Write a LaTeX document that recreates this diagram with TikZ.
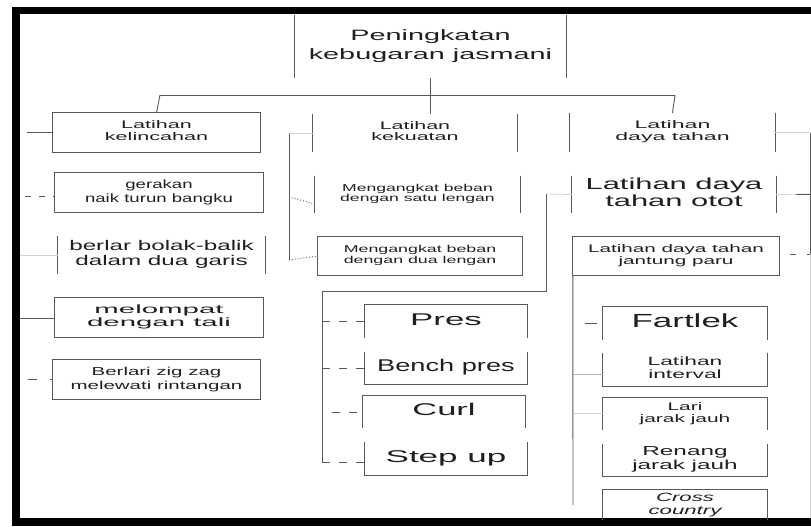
\documentclass[tikz,border=0pt]{standalone}
\usepackage{fontspec}
\setmainfont{Liberation Sans}
\usepackage{graphicx}
\newcommand{\stx}[2]{\scalebox{#1}[1]{\begin{tabular}{@{}c@{}}#2\end{tabular}}}
\newcommand{\fs}[2]{\fontsize{#1}{#2}\selectfont}
\begin{document}
\begin{tikzpicture}[x=1pt,y=-1pt,
  bx/.style={inner sep=0pt, text=black!88},
  ln/.style={draw=black!65, line width=0.9pt},
  fa/.style={draw=black!18, line width=0.8pt},
  dsh/.style={draw=black!65, line width=0.9pt, dash pattern=on 8pt off 9pt},
  frame/.style={draw=black, line width=7.5pt, line join=miter}
]
\useasboundingbox (0,0) rectangle (811,527);

% frame
\draw[frame] (811,10.5) -- (16,10.5) -- (16,522) -- (811,522);

% root
\node[bx, minimum width=271pt, minimum height=63pt, font=\fs{15}{19}] (root) at (430.5,46.5)
  {\raisebox{3pt}{\stx{1.92}{Peningkatan\\kebugaran jasmani}}};
\draw[ln] (root.north west) -- (root.south west) (root.north east) -- (root.south east);

% level 1
\node[bx, minimum width=207pt, minimum height=39pt, font=\fs{11}{12}] (kel) at (156.5,132.5)
  {\stx{1.96}{Latihan\\kelincahan}};
\draw[ln] (kel.north west) rectangle (kel.south east);

\node[bx, minimum width=204pt, minimum height=38pt, font=\fs{11}{11}] (kek) at (415,133)
  {\raisebox{3pt}{\stx{1.95}{Latihan\\kekuatan}}};
\draw[ln] (kek.north west) -- (kek.south west) (kek.north east) -- (kek.south east);

\node[bx, minimum width=205pt, minimum height=39pt, font=\fs{11}{12}] (dt) at (672.5,132.5)
  {\raisebox{2pt}{\stx{2.1}{Latihan\\daya tahan}}};
\draw[ln] (dt.north west) -- (dt.south west) (dt.north east) -- (dt.south east);

% tree top
\coordinate (hL) at (160,95);
\coordinate (hR) at (675,95);
\draw[ln] (root.south) -- (root.south |- kek.north);
\draw[ln] (hL) -- (hR);
\draw[ln] (hL) -- (kel.north);
\draw[ln] (hR) -- (dt.north);

% column 1
\node[bx, minimum width=208pt, minimum height=39pt, font=\fs{12}{14}] (gerak) at (159,192.5)
  {\stx{1.55}{gerakan\\naik turun bangku}};
\draw[ln] (gerak.north west) rectangle (gerak.south east);

\node[bx, minimum width=207pt, minimum height=38pt, font=\fs{14}{15}] (berlar) at (161.5,255)
  {\stx{1.73}{berlar bolak-balik\\dalam dua garis}};
\draw[ln] (berlar.north west) -- (berlar.south west) (berlar.north east) -- (berlar.south east);

\node[bx, minimum width=208pt, minimum height=39pt, font=\fs{12}{12}] (melom) at (159,317.5)
  {\stx{2.45}{melompat\\dengan tali}};
\draw[ln] (melom.north west) rectangle (melom.south east);

\node[bx, minimum width=207pt, minimum height=39pt, font=\fs{11.5}{14}] (zig) at (156.5,379.5)
  {\stx{1.78}{Berlari zig zag\\melewati rintangan}};
\draw[ln] (zig.north west) rectangle (zig.south east);

\coordinate (k1) at (27,132.5);
\coordinate (g1) at (25,196);
\coordinate (bl1) at (20,255);
\coordinate (m1) at (20,318);
\coordinate (z1) at (28,379);
\draw[ln] (k1) -- (kel.west);
\draw[ln, dash pattern=on 6pt off 8pt] (g1) -- (g1 -| gerak.west);
\draw[fa] (bl1) -- (berlar.west);
\draw[ln] (m1) -- (m1 -| melom.west);
\draw[ln, dash pattern=on 9pt off 13pt] (z1) -- (z1 -| zig.west);

% column 2
\node[bx, minimum width=205pt, minimum height=37pt, font=\fs{10}{10.5}] (satu) at (417.5,194.5)
  {\stx{1.76}{Mengangkat beban\\dengan satu lengan}};
\draw[ln] (satu.north west) -- (satu.south west) (satu.north east) -- (satu.south east);

\node[bx, minimum width=204pt, minimum height=38pt, font=\fs{10}{11}] (dua) at (420,256)
  {\stx{1.78}{Mengangkat beban\\dengan dua lengan}};
\draw[ln] (dua.north west) rectangle (dua.south east);

\coordinate (b1) at (289,133);
\coordinate (b2) at (289,260);
\coordinate (b3) at (289,197);
\draw[ln] (b1) -- (b2);
\draw[fa] (b1) -- (kek.west);
\draw[ln, dotted] (b3) -- ([yshift=-9.5pt]satu.west);
\draw[ln, dotted] (b2) -- (dua.west);

\node[bx, minimum width=162pt, minimum height=33pt, font=\fs{17}{18}] (pres) at (446,321.5)
  {\stx{2.05}{Pres}};
\draw[ln] (pres.south west) -- (pres.north west) -- (pres.north east) -- (pres.south east);

\node[bx, minimum width=162pt, minimum height=32pt, font=\fs{17}{18}] (bench) at (446,368)
  {\stx{1.6}{Bench pres}};
\draw[ln] (bench.north west) -- (bench.south west) -- (bench.south east) -- (bench.north east);

\node[bx, minimum width=162pt, minimum height=32pt, font=\fs{17}{18}] (curl) at (444,412)
  {\stx{2.03}{Curl}};
\draw[ln] (curl.south west) -- (curl.north west) -- (curl.north east) -- (curl.south east);

\node[bx, minimum width=162pt, minimum height=33pt, font=\fs{17}{18}] (step) at (446,458.5)
  {\stx{2.06}{Step up}};
\draw[ln] (step.north west) -- (step.south west) -- (step.south east) -- (step.north east);

\coordinate (r1) at (546,194);
\coordinate (r2) at (546,291);
\coordinate (r3) at (322,291);
\coordinate (r4) at (322,462);
\draw[ln] (r1) -- (r2) -- (r3) -- (r4);
\draw[dsh] (r3 |- pres.west) -- (pres.west);
\draw[dsh] (r3 |- bench.west) -- (bench.west);
\draw[dsh] ([xshift=10pt]r3 |- curl.west) -- (curl.west);
\draw[dsh] (r4) -- (r4 -| step.west);

% column 3
\node[bx, minimum width=204pt, minimum height=37pt, font=\fs{16}{16}] (otot) at (674,194.5)
  {\stx{1.93}{Latihan daya\\tahan otot}};
\draw[ln] (otot.north west) -- (otot.south west) (otot.north east) -- (otot.south east);
\draw[fa] (otot.west) -- (r1);

\node[bx, minimum width=206pt, minimum height=38pt, font=\fs{11}{12}] (jp) at (676,256)
  {\stx{1.88}{Latihan daya tahan\\jantung paru}};
\draw[ln] (jp.north west) rectangle (jp.south east);

\node[bx, minimum width=164pt, minimum height=33pt, font=\fs{19}{20}] (fart) at (685,323.5)
  {\stx{1.84}{Fartlek}};
\draw[ln] (fart.south west) -- (fart.north west) -- (fart.north east) -- (fart.south east);

\node[bx, minimum width=164pt, minimum height=33pt, font=\fs{12}{13}] (intv) at (685,369.5)
  {\stx{1.9}{Latihan\\interval}};
\draw[ln] (intv.north west) -- (intv.south west) -- (intv.south east) -- (intv.north east);

\node[bx, minimum width=164pt, minimum height=32pt, font=\fs{11}{12}] (lari) at (685,414)
  {\stx{1.9}{Lari\\jarak jauh}};
\draw[ln] (lari.south west) -- (lari.north west) -- (lari.north east) -- (lari.south east);

\node[bx, minimum width=164pt, minimum height=32pt, font=\fs{13}{13}] (renang) at (685,460)
  {\stx{1.87}{Renang\\jarak jauh}};
\draw[ln] (renang.north west) -- (renang.south west) -- (renang.south east) -- (renang.north east);

\node[bx, minimum width=164pt, minimum height=30pt, font=\fs{12}{13}\itshape] (cross) at (685,505)
  {\stx{1.85}{Cross\\country}};
\draw[ln] (cross.south west) -- (cross.north west) -- (cross.north east) -- (cross.south east);

\coordinate (v3) at (573,505);
\coordinate (i1) at (573,374);
\coordinate (l1) at (573,413);
\draw[ln] (jp.south west) -- (v3);
\draw[ln, dash pattern=on 0pt off 12pt on 12pt off 60pt] (v3 |- fart.west) -- (fart.west);
\draw[draw=black!30, line width=0.8pt] (i1) -- (i1 -| intv.west);
\draw[fa] (l1) -- (l1 -| lari.west);

% right edge
\coordinate (e1) at (810,132.5);
\coordinate (e2) at (810,254);
\coordinate (e3) at (810,194);
\coordinate (e4) at (810,518);
\draw[fa] (dt.east) -- (e1);
\draw[ln] (e1) -- (e2);
\draw[fa] (otot.east) -- (e3);
\draw[ln] ([xshift=-14pt]e3) -- (e3);
\draw[ln, dash pattern=on 0pt off 11pt on 6pt off 11pt on 6pt] (jp.east |- e2) -- (e2);
\draw[fa] (e2) -- (e4);
\end{tikzpicture}
\end{document}
